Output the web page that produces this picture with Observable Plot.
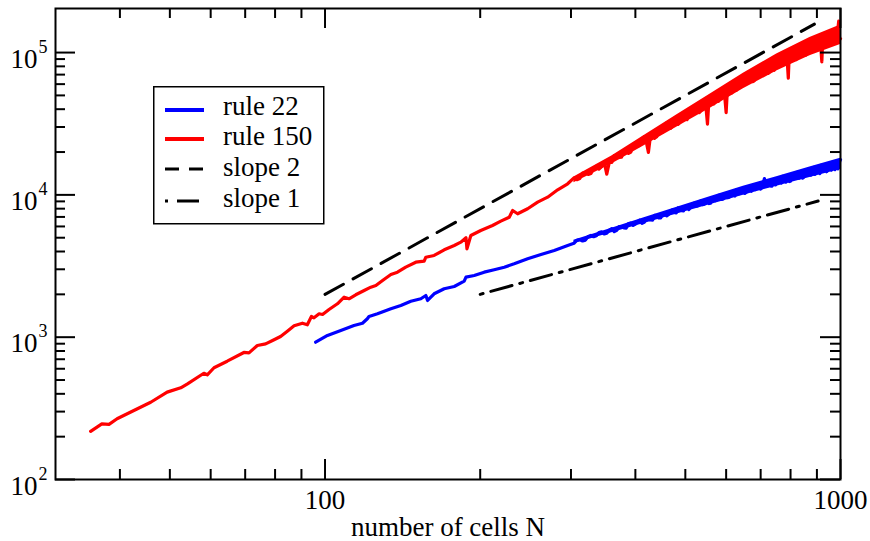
<!DOCTYPE html>
<html>
<head>
<meta charset="utf-8">
<script src="https://cdn.jsdelivr.net/npm/d3@7"></script>
<script src="https://cdn.jsdelivr.net/npm/@observablehq/plot@0.6"></script>
<style>
html, body { margin: 0; padding: 0; background: #fff; }
#wrap { position: relative; width: 870px; height: 541px; }
#wrap svg { display: block; }
#legend { position: absolute; left: 0; top: 0; }
</style>
</head>
<body>
<div id="wrap"></div>
<script>
// ---- data ----
const xDomain = [30, 1000];
const yDomain = [100, 204000];
const xMajor = [100, 1000];
const xMinor = [40, 50, 60, 70, 80, 90, 200, 300, 400, 500, 600, 700, 800, 900];
const yMajor = [100, 1000, 10000, 100000];
const yMinor = [200, 300, 400, 500, 600, 700, 800, 900,
  2000, 3000, 4000, 5000, 6000, 7000, 8000, 9000,
  20000, 30000, 40000, 50000, 60000, 70000, 80000, 90000];
const xTitle = "number of cells N";
const legendLabels = ["rule 22", "rule 150", "slope 2", "slope 1"];

// rule 150, smooth low-N part
const redN_low = [35.1, 36.9, 38.1, 39.5, 41.9, 45.9, 49.4, 52.5, 54.1, 58.2, 59.1, 60.9, 64.6, 69.6, 71.2, 73.9, 76.7, 79.1, 82.0, 84.5, 87.1, 90.4, 92.4, 94.1, 95.2, 97.4, 98.9, 101.8, 105.7, 108.9, 111.3, 114.7, 119.1, 122.7, 125.5, 129.3, 134.2, 138.2, 143.4, 150, 155.7, 156.9, 162.8, 170.3, 178.1, 183.4, 187.7, 188.5, 191.8, 200.5, 211.3, 219.3, 227.7, 231.2, 236.4, 247.2, 258.5, 270.3, 282.7, 295.6];
const redY_low = [218, 246, 244, 267, 297, 349, 411, 441, 470, 558, 544, 610, 678, 781, 776, 874, 898, 948, 1012, 1102, 1202, 1254, 1222, 1398, 1368, 1460, 1444, 1566, 1717, 1910, 1862, 1986, 2128, 2246, 2309, 2503, 2757, 2863, 3105, 3365, 3420, 3648, 3751, 4113, 4410, 4652, 4995, 4180, 5185, 5622, 6095, 6534, 6970, 7767, 7366, 7987, 8886, 9634, 10860, 11970];

// rule 22, smooth low-N part
const blueN_low = [95.9, 101.1, 107.3, 113.8, 118.2, 120.8, 121.7, 126.4, 134.2, 140.3, 146.7, 153.4, 156.9, 158.1, 162.8, 170.3, 178.1, 186.2, 187.7, 194.7, 203.6, 212.9, 222.7, 232.8, 247.2, 262.4, 278.4, 295.6];
const blueY_low = [922, 1028, 1114, 1208, 1254, 1347, 1398, 1460, 1584, 1670, 1790, 1862, 1963, 1811, 2018, 2188, 2272, 2475, 2641, 2714, 2863, 2977, 3104, 3280, 3556, 3812, 4067, 4410];

// noisy high-N part, grid A
const noisyN = [304, 312, 320, 328, 336, 344, 352, 360, 368, 376, 384, 392, 400, 408, 416, 424, 432, 440, 448, 456, 464, 472, 480, 488, 496, 504, 512, 520, 528, 536, 544, 552, 560, 568, 576, 584, 592, 600, 608, 616, 624, 632, 640, 648, 656, 664, 672, 680, 688, 696, 704, 712, 720, 728, 736, 744, 752, 760, 768, 776, 784, 792, 800, 808, 816, 824, 832, 840, 848, 856, 864, 872, 880, 888, 896, 904, 912, 920, 928, 936, 944, 952, 960, 968, 976, 984, 992, 1000];
const redY_high = [13180, 13040, 14290, 14150, 15920, 15830, 13990, 16910, 18710, 18420,
  20890, 19960, 22990, 22380, 25590, 19910, 26790, 25590, 29850, 28750,
  32500, 30300, 35310, 32290, 36590, 33810, 40170, 37830, 43320, 39080,
  44100, 31450, 48180, 43530, 51730, 48170, 56460, 37780, 56890, 52130,
  62500, 58140, 66760, 59700, 71230, 62130, 71400, 63230, 77090, 70120,
  81660, 70450, 80470, 72800, 86780, 75160, 91570, 82510, 98150, 82900,
  95500, 66000, 103000, 93500, 107700, 93700, 112400, 95800, 110300, 95900,
  117400, 105300, 122300, 103900, 117900, 105400, 124700, 85950, 129100, 115400,
  136500, 114600, 131300, 116100, 140100, 126500, 166100, 125400];
const blueY_high = [4565, 4857, 4811, 5193, 5163, 5494, 5385, 5796, 5632, 5991,
  5840, 6337, 6229, 6650, 6411, 6800, 6655, 7161, 6894, 7479,
  7292, 7863, 7478, 7978, 7721, 8401, 8181, 8735, 8356, 9077,
  8594, 9188, 8752, 9607, 9262, 9961, 9369, 9993, 9630, 10450,
  9829, 10780, 10310, 11230, 10410, 11180, 10610, 11680, 11190, 12030,
  11270, 13030, 11460, 12340, 11520, 12820, 12150, 13180, 12130, 13030,
  12300, 13520, 12470, 13890, 13080, 14420, 13100, 14200, 13260, 14840,
  14000, 15210, 13990, 15600, 14150, 15400, 14120, 15990, 14920, 16390,
  14780, 16020, 14920, 16630, 15050, 17030, 15820, 17690];

// noisy high-N part, grid B (in between grid A)
const midN = [308, 316, 324, 332, 340, 348, 356, 364, 372, 380, 388, 396, 404, 412, 420, 428, 436, 444, 452, 460, 468, 476, 484, 492, 500, 508, 516, 524, 532, 540, 548, 556, 564, 572, 580, 588, 596, 604, 612, 620, 628, 636, 644, 652, 660, 668, 676, 684, 692, 700, 708, 716, 724, 732, 740, 748, 756, 764, 772, 780, 788, 796, 804, 812, 820, 828, 836, 844, 852, 860, 868, 876, 884, 892, 900, 908, 916, 924, 932, 940, 948, 956, 964, 972, 980, 988, 996];
const redY_mid = [12790, 14220, 13930, 15370, 15180, 16970, 16880, 18890, 18300, 20400,
  19560, 22630, 21930, 24860, 23510, 26250, 24970, 28840, 27630, 32130,
  29330, 33420, 31260, 36500, 34770, 40120, 36630, 41620, 37840, 45190,
  41980, 48630, 43950, 49670, 45480, 53700, 49910, 59080, 51890, 59950,
  54300, 64650, 60030, 70310, 61990, 71170, 62480, 76190, 68630, 80670,
  70370, 80390, 71320, 85810, 77500, 93460, 79200, 92370, 81340, 97680,
  88640, 104300, 89860, 103500, 89140, 109200, 97050, 114000, 98170, 111800,
  98220, 117700, 105400, 126000, 105900, 122700, 107400, 128300, 115900, 135700,
  116300, 133300, 114200, 139300, 123100, 144000, 123400];
const blueY_mid = [4799, 4745, 5108, 5081, 5436, 5317, 5654, 5514, 5975, 5868,
  6284, 6098, 6466, 6300, 6798, 6658, 7190, 6878, 7353, 7121,
  7699, 7525, 8088, 7744, 8260, 7889, 8626, 8322, 8965, 8527,
  9079, 8686, 9452, 9113, 9926, 9303, 10010, 9548, 10430, 10040,
  10860, 10200, 10940, 10250, 11330, 10760, 11670, 10900, 11650, 10980,
  12060, 11460, 12600, 11570, 12550, 11760, 12970, 12330, 13480, 12450,
  13460, 12410, 13900, 13020, 14270, 13110, 14130, 13120, 14580, 13690,
  15230, 13760, 15050, 13910, 15530, 14610, 16120, 14670, 16000, 14530,
  16500, 15260, 16900, 15300, 16620, 15230, 17130];

// envelope of the fluctuation band (read at a few N)
const bandN = [304, 360, 416, 480, 560, 648, 752, 872, 1000];
const redLo = [12160, 16480, 22130, 29720, 40830, 55590, 74130, 94840, 114000];
const redHi = [13340, 18750, 26120, 36220, 51400, 71610, 97720, 127400, 156000];
const blueLo = [4539, 5416, 6293, 7296, 8568, 9959, 11480, 13220, 15050];
const blueHi = [4797, 5831, 6901, 8150, 9745, 11490, 13420, 15670, 18100];

// guide lines
const slope2N = [100, 890];
const slope2Y = [2000, 158420];
const slope1N = [200, 905];
const slope1Y = [2000, 9050];

// ---- build tables ----
const toRows = (ns, vs) => ns.map((n, i) => ({N: n, v: vs[i]}));
const byN = (a, b) => a.N - b.N;
const red = toRows(redN_low, redY_low)
  .concat(toRows(noisyN, redY_high), toRows(midN, redY_mid)).sort(byN);
const blue = toRows(blueN_low, blueY_low)
  .concat(toRows(noisyN, blueY_high), toRows(midN, blueY_mid)).sort(byN);
const redBand = bandN.map((n, i) => ({N: n, lo: redLo[i], hi: redHi[i]}));
const blueBand = bandN.map((n, i) => ({N: n, lo: blueLo[i], hi: blueHi[i]}));
const slope2 = toRows(slope2N, slope2Y);
const slope1 = toRows(slope1N, slope1Y);

const W = 870, H = 541, mL = 55, mR = 30, mT = 8, mB = 62;
const fw = W - mL - mR, fh = H - mT - mB;
const font = "'Liberation Serif', 'Times New Roman', Times, serif";
const tk = {stroke: "black", strokeWidth: 2};

const chart = Plot.plot({
  width: W, height: H,
  marginLeft: mL, marginRight: mR, marginTop: mT, marginBottom: mB,
  x: {type: "log", domain: xDomain, axis: null},
  y: {type: "log", domain: yDomain, axis: null},
  style: {fontFamily: font, background: "white", color: "black", overflow: "visible"},
  marks: [
    Plot.areaY(blueBand, {x: "N", y1: "lo", y2: "hi", fill: "#0000ff"}),
    Plot.line(blue, {x: "N", y: "v", stroke: "#0000ff", strokeWidth: 3.2, strokeLinejoin: "round"}),
    Plot.areaY(redBand, {x: "N", y1: "lo", y2: "hi", fill: "#ff0000"}),
    Plot.line(red, {x: "N", y: "v", stroke: "#ff0000", strokeWidth: 3.2, strokeLinejoin: "round"}),
    Plot.line(slope2, {x: "N", y: "v", stroke: "black", strokeWidth: 3, strokeDasharray: "21,11"}),
    Plot.line(slope1, {x: "N", y: "v", stroke: "black", strokeWidth: 3, strokeDasharray: "3,8,22,8"}),
    // inward ticks on all four sides
    Plot.tickX(xMajor, {x: d => d, insetTop: fh - 20, ...tk}),
    Plot.tickX(xMinor, {x: d => d, insetTop: fh - 10, ...tk}),
    Plot.tickX(xMajor, {x: d => d, insetBottom: fh - 20, ...tk}),
    Plot.tickX(xMinor, {x: d => d, insetBottom: fh - 10, ...tk}),
    Plot.tickY(yMajor, {y: d => d, insetRight: fw - 20, ...tk}),
    Plot.tickY(yMinor, {y: d => d, insetRight: fw - 10, ...tk}),
    Plot.tickY(yMajor, {y: d => d, insetLeft: fw - 20, ...tk}),
    Plot.tickY(yMinor, {y: d => d, insetLeft: fw - 10, ...tk}),
    Plot.frame({stroke: "black", strokeWidth: 2}),
    // tick labels
    Plot.text(xMajor, {x: d => d, frameAnchor: "bottom", dy: 29, lineAnchor: "bottom", text: d => String(d), fontSize: 27}),
    Plot.text([xTitle], {frameAnchor: "bottom", dy: 56, lineAnchor: "bottom", text: d => d, fontSize: 27}),
    Plot.text(yMajor, {y: d => d, frameAnchor: "left", dx: -18, dy: 15, textAnchor: "end", lineAnchor: "bottom", text: () => "10", fontSize: 27}),
    Plot.text(yMajor, {y: d => d, frameAnchor: "left", dx: -17, dy: 0, textAnchor: "start", lineAnchor: "bottom", text: d => String(Math.round(Math.log10(d))), fontSize: 18})
  ]
});

const wrap = document.getElementById("wrap");
wrap.appendChild(chart);

// ---- legend (boxed, inside the plot area) ----
const ns = "http://www.w3.org/2000/svg";
const lg = document.createElementNS(ns, "svg");
lg.setAttribute("id", "legend");
lg.setAttribute("width", W);
lg.setAttribute("height", H);
lg.style.pointerEvents = "none";
function el(tag, attrs, text) {
  const e = document.createElementNS(ns, tag);
  for (const k in attrs) e.setAttribute(k, attrs[k]);
  if (text != null) e.textContent = text;
  lg.appendChild(e);
  return e;
}
el("rect", {x: 153.75, y: 86.75, width: 170, height: 137, fill: "white", stroke: "black", "stroke-width": 1.5});
const rows = [
  {y: 110, ty: 115, stroke: "#0000ff", w: 4, dash: null},
  {y: 139, ty: 145, stroke: "#ff0000", w: 4, dash: null},
  {y: 169, ty: 176, stroke: "black", w: 3, dash: "14,10"},
  {y: 201, ty: 207, stroke: "black", w: 3, dash: "3,9,22,100"}
];
rows.forEach((r, i) => {
  const a = {x1: 165, x2: 204, y1: r.y, y2: r.y, stroke: r.stroke, "stroke-width": r.w};
  if (r.dash) a["stroke-dasharray"] = r.dash;
  el("line", a);
  el("text", {x: 223, y: r.ty, "font-family": font, "font-size": 27, fill: "black"}, legendLabels[i]);
});
wrap.appendChild(lg);
</script>
</body>
</html>
